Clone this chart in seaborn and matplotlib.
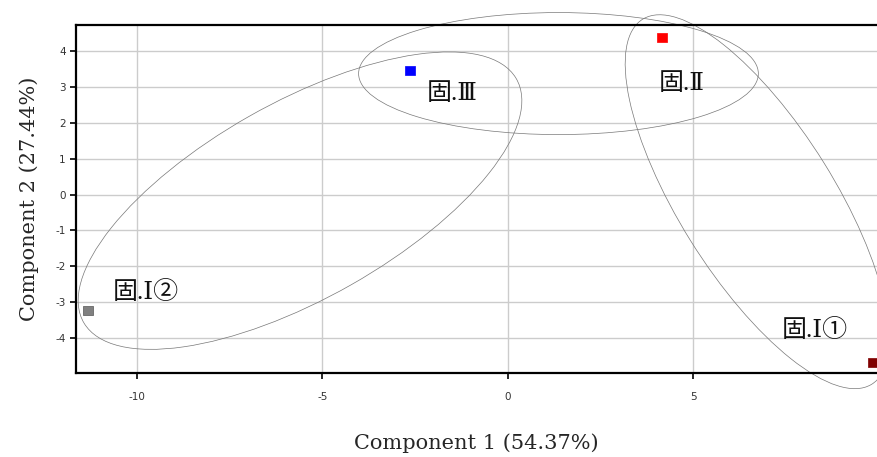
import pandas as pd
import seaborn as sns
import matplotlib.pyplot as plt
from matplotlib.patches import Ellipse

# sample scores on the first two components
groups = ['固.Ⅰ①', '固.Ⅰ②', '固.Ⅱ', '固.Ⅲ']
pc1 = [9.85, -11.32, 4.16, -2.63]
pc2 = [-4.68, -3.23, 4.37, 3.45]
colors = ['#800000', '#808080', '#ff0000', '#0000ff']

# label offsets from each point (points)
label_dx = [-66, 18, -2, 12]
label_dy = [23, 13, -33, -17]

# ellipses: centre x, centre y, width, height, angle
ell_x = [-5.6, 1.37, 6.73]
ell_y = [-0.17, 3.37, -0.2]
ell_w = [13.5, 10.78, 11.9]
ell_h = [5.44, 3.40, 4.2]
ell_a = [30.4, 0.0, -58.9]

x_ticks = [-10, -5, 0, 5]
y_ticks = [-4, -3, -2, -1, 0, 1, 2, 3, 4]

df = pd.DataFrame({'group': groups, 'pc1': pc1, 'pc2': pc2})

sns.set_style('whitegrid')
plt.rcParams['font.family'] = ['DejaVu Sans', 'Noto Sans CJK JP']
plt.rcParams['axes.unicode_minus'] = False

fig = plt.figure(figsize=(8.77, 4.57), dpi=100)
ax = fig.add_axes([0.0867, 0.184, 0.9133, 0.761])

sns.scatterplot(data=df, x='pc1', y='pc2', hue='group', palette=colors,
                marker='s', s=45, edgecolor=['#800000', '#555555', '#ff0000', '#0000ff'],
                linewidth=0.5, legend=False, ax=ax, zorder=3, clip_on=False)

for cx, cy, w, h, a in zip(ell_x, ell_y, ell_w, ell_h, ell_a):
    e = Ellipse((cx, cy), w, h, angle=a, fill=False, edgecolor='#777777',
                linewidth=0.5, clip_on=False, zorder=2)
    ax.add_patch(e)

for g, x, y, dx, dy in zip(groups, pc1, pc2, label_dx, label_dy):
    ax.annotate(g, (x, y), xytext=(dx, dy), textcoords='offset points',
                fontsize=18, ha='left', va='center', color='#111111',
                family=['Liberation Serif', 'DejaVu Serif', 'Noto Sans CJK JP'])

ax.set_xlim(-11.64, 9.96)
ax.set_ylim(-4.97, 4.72)
ax.set_xticks(x_ticks)
ax.set_yticks(y_ticks)
ax.grid(True, color='#cccccc', linewidth=1.0)

for side in ['left', 'bottom', 'top']:
    ax.spines[side].set_visible(True)
    ax.spines[side].set_color('black')
    ax.spines[side].set_linewidth(1.6)
ax.spines['right'].set_visible(False)

ax.tick_params(axis='both', direction='out', length=4, width=1.2, color='black',
               labelsize=7.5, labelcolor='#333333', bottom=True, left=True)
ax.tick_params(axis='x', pad=10)

ax.set_xlabel('Component 1 (54.37%)', fontsize=15, family='DejaVu Serif', labelpad=22)
ax.set_ylabel('Component 2 (27.44%)', fontsize=15, family='DejaVu Serif', labelpad=12)

plt.savefig('out.png', dpi=100)
